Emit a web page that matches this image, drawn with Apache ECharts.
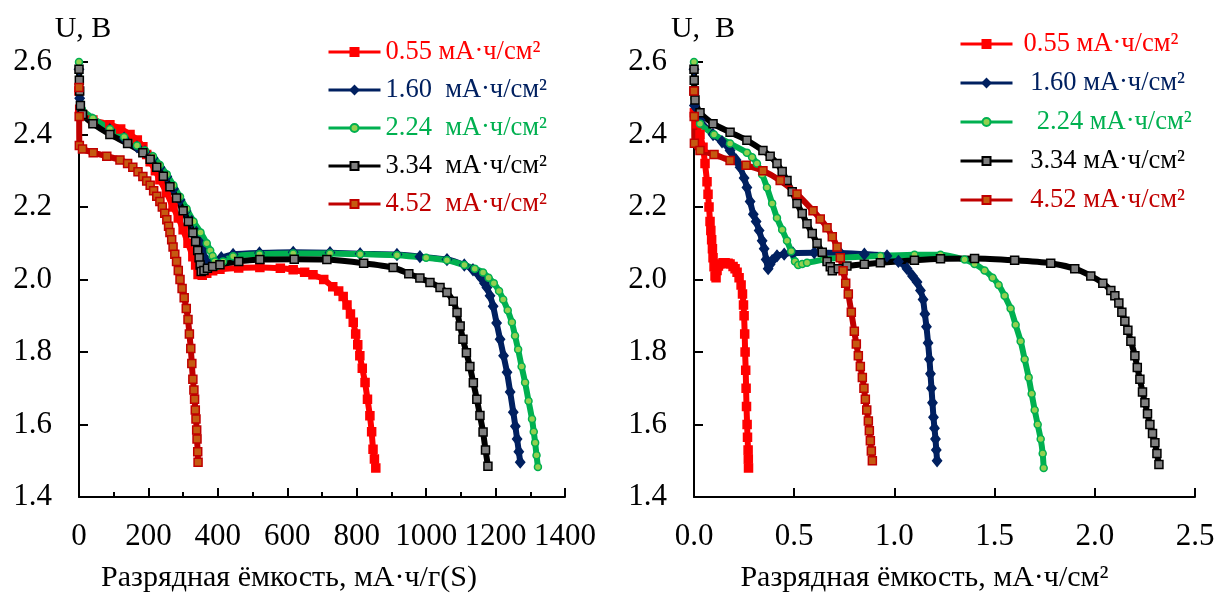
<!DOCTYPE html>
<html>
<head>
<meta charset="utf-8">
<script src="https://cdn.jsdelivr.net/npm/echarts@6/dist/echarts.min.js"></script>
<style>
  html, body { margin: 0; padding: 0; background: #fff; }
  #chart { width: 1219px; height: 601px; }
</style>
</head>
<body>
<div id="chart"></div>
<script>
// Discharge curves: voltage U (V) vs specific capacity (mA·h/g S) and areal capacity (mA·h/cm²)

const seriesLabelsLeft = ['0.55 мА·ч/см²', '1.60  мА·ч/см²', '2.24  мА·ч/см²', '3.34  мА·ч/см²', '4.52  мА·ч/см²'];
const seriesLabelsRight = ['0.55 мА·ч/см² ', ' 1.60 мА·ч/см² ', '  2.24 мА·ч/см² ', ' 3.34 мА·ч/см² ', ' 4.52 мА·ч/см² '];

const xTicksLeft = [0, 200, 400, 600, 800, 1000, 1200, 1400];
const xTicksRight = [0.0, 0.5, 1.0, 1.5, 2.0, 2.5];
const yTicks = [1.4, 1.6, 1.8, 2.0, 2.2, 2.4, 2.6];

// Specific capacity, mA·h/g(S)
const left055 = [[0,2.52],[2,2.47],[10,2.455],[40,2.44],[89,2.427],[120,2.415],[147,2.40],[168,2.385],[184,2.366],[195,2.345],[205,2.325],[220,2.30],[233,2.275],[252,2.24],[271,2.20],[286,2.17],[300,2.137],[314,2.10],[328,2.063],[336,2.04],[343,2.014],[355,2.012],[368,2.017],[385,2.024],[406,2.028],[460,2.032],[521,2.033],[580,2.031],[617,2.027],[650,2.02],[674,2.013],[705,2.0],[731,1.98],[748,1.968],[761,1.953],[772,1.93],[782,1.905],[790,1.882],[797,1.85],[803,1.82],[809,1.79],[816,1.755],[824,1.716],[831,1.67],[838,1.624],[843,1.58],[847,1.532],[851,1.505],[855,1.48]];
const left160 = [[0,2.58],[2,2.50],[8,2.465],[40,2.44],[89,2.413],[130,2.39],[167,2.366],[190,2.352],[213,2.335],[233,2.31],[253,2.284],[272,2.25],[291,2.22],[308,2.19],[325,2.16],[338,2.13],[350,2.10],[357,2.08],[362,2.06],[367,2.045],[370,2.036],[377,2.04],[385,2.048],[410,2.06],[444,2.069],[520,2.073],[617,2.075],[723,2.074],[810,2.071],[916,2.069],[982,2.063],[1060,2.055],[1110,2.04],[1135,2.027],[1150,2.015],[1160,2.003],[1168,1.99],[1175,1.978],[1184,1.955],[1193,1.926],[1203,1.88],[1213,1.835],[1223,1.79],[1233,1.744],[1242,1.69],[1251,1.634],[1257,1.595],[1262,1.56],[1267,1.525],[1271,1.496]];
const left224 = [[0,2.60],[2,2.52],[8,2.47],[40,2.445],[89,2.415],[130,2.393],[167,2.37],[190,2.356],[213,2.34],[233,2.316],[253,2.29],[272,2.26],[291,2.228],[310,2.195],[330,2.16],[350,2.13],[368,2.10],[378,2.08],[385,2.065],[391,2.05],[397,2.037],[405,2.043],[415,2.05],[444,2.064],[520,2.07],[617,2.072],[723,2.072],[810,2.07],[916,2.067],[1000,2.06],[1060,2.053],[1110,2.04],[1140,2.03],[1164,2.019],[1180,2.005],[1195,1.99],[1210,1.968],[1222,1.945],[1235,1.915],[1247,1.882],[1256,1.845],[1265,1.807],[1275,1.76],[1285,1.716],[1295,1.665],[1305,1.615],[1310,1.58],[1314,1.55],[1318,1.515],[1322,1.483]];
const left334 = [[0,2.58],[1,2.55],[2,2.52],[4,2.48],[10,2.455],[40,2.43],[89,2.40],[140,2.375],[184,2.35],[205,2.332],[224,2.31],[243,2.285],[262,2.256],[281,2.225],[300,2.19],[315,2.16],[328,2.129],[336,2.105],[342,2.08],[346,2.06],[349,2.04],[352,2.022],[360,2.025],[370,2.031],[385,2.036],[406,2.041],[460,2.05],[521,2.055],[620,2.056],[714,2.055],[820,2.045],[905,2.033],[950,2.016],[982,2.004],[1011,1.992],[1040,1.978],[1060,1.964],[1078,1.94],[1089,1.909],[1098,1.872],[1106,1.835],[1116,1.798],[1126,1.76],[1136,1.715],[1146,1.67],[1155,1.625],[1164,1.579],[1171,1.53],[1178,1.485]];
const left452 = [[0,2.53],[0.5,2.45],[1,2.37],[10,2.36],[41,2.35],[80,2.34],[118,2.33],[140,2.32],[155,2.31],[170,2.297],[184,2.284],[195,2.272],[205,2.26],[215,2.245],[224,2.23],[233,2.215],[240,2.20],[247,2.183],[253,2.165],[258,2.147],[262,2.13],[267,2.11],[271,2.09],[276,2.07],[281,2.05],[286,2.025],[291,2.0],[297,1.975],[303,1.95],[309,1.92],[314,1.89],[318,1.85],[322,1.81],[325,1.768],[328,1.725],[331,1.695],[333,1.67],[335,1.64],[337,1.615],[339,1.585],[340,1.56],[342,1.525],[343,1.496]];

// Areal capacity, mA·h/cm²
const right055 = [[0,2.52],[0.002,2.46],[0.015,2.43],[0.03,2.40],[0.045,2.365],[0.055,2.32],[0.065,2.27],[0.07,2.235],[0.075,2.20],[0.08,2.16],[0.084,2.135],[0.088,2.11],[0.092,2.085],[0.095,2.06],[0.1,2.035],[0.105,2.01],[0.11,2.005],[0.115,2.025],[0.122,2.037],[0.13,2.043],[0.145,2.046],[0.155,2.046],[0.17,2.045],[0.18,2.043],[0.195,2.036],[0.205,2.03],[0.215,2.02],[0.225,2.005],[0.235,1.985],[0.242,1.96],[0.247,1.93],[0.25,1.90],[0.253,1.85],[0.255,1.80],[0.258,1.75],[0.26,1.70],[0.262,1.65],[0.265,1.60],[0.267,1.565],[0.27,1.53],[0.271,1.505],[0.272,1.48]];
const right160 = [[0,2.58],[0.002,2.48],[0.03,2.44],[0.095,2.40],[0.14,2.38],[0.18,2.356],[0.21,2.33],[0.23,2.31],[0.25,2.28],[0.264,2.254],[0.28,2.215],[0.296,2.18],[0.31,2.16],[0.325,2.135],[0.34,2.107],[0.35,2.085],[0.36,2.055],[0.37,2.03],[0.38,2.042],[0.39,2.052],[0.414,2.065],[0.45,2.07],[0.494,2.073],[0.6,2.074],[0.73,2.073],[0.85,2.07],[0.963,2.065],[1.02,2.05],[1.063,2.03],[1.09,2.01],[1.113,1.993],[1.13,1.97],[1.143,1.945],[1.152,1.905],[1.16,1.87],[1.168,1.825],[1.175,1.78],[1.18,1.74],[1.185,1.70],[1.19,1.66],[1.195,1.62],[1.2,1.59],[1.205,1.56],[1.209,1.53],[1.213,1.50]];
const right224 = [[0,2.60],[0.002,2.50],[0.03,2.43],[0.1,2.40],[0.18,2.375],[0.264,2.35],[0.29,2.337],[0.314,2.32],[0.34,2.29],[0.364,2.254],[0.39,2.21],[0.414,2.17],[0.44,2.137],[0.464,2.107],[0.485,2.078],[0.504,2.05],[0.52,2.04],[0.54,2.043],[0.564,2.046],[0.65,2.055],[0.73,2.06],[0.93,2.065],[1.1,2.068],[1.23,2.068],[1.35,2.055],[1.4,2.043],[1.45,2.025],[1.49,2.005],[1.52,1.985],[1.55,1.955],[1.58,1.92],[1.605,1.875],[1.63,1.83],[1.65,1.78],[1.67,1.73],[1.685,1.685],[1.70,1.64],[1.715,1.60],[1.73,1.56],[1.74,1.52],[1.745,1.48]];
const right334 = [[0,2.58],[0.001,2.55],[0.002,2.52],[0.005,2.495],[0.03,2.46],[0.095,2.43],[0.18,2.406],[0.264,2.384],[0.344,2.356],[0.38,2.34],[0.414,2.32],[0.44,2.298],[0.464,2.273],[0.49,2.242],[0.514,2.21],[0.54,2.182],[0.564,2.154],[0.59,2.127],[0.614,2.10],[0.64,2.075],[0.664,2.05],[0.68,2.035],[0.69,2.024],[0.72,2.03],[0.763,2.037],[0.85,2.042],[0.93,2.046],[1.1,2.053],[1.23,2.057],[1.4,2.058],[1.6,2.053],[1.78,2.045],[1.9,2.03],[1.98,2.01],[2.04,1.99],[2.08,1.97],[2.1,1.955],[2.12,1.935],[2.135,1.91],[2.15,1.885],[2.165,1.86],[2.18,1.83],[2.2,1.79],[2.212,1.757],[2.225,1.725],[2.238,1.69],[2.25,1.66],[2.263,1.63],[2.275,1.60],[2.288,1.575],[2.30,1.55],[2.31,1.52],[2.32,1.49]];
const right452 = [[0,2.52],[0.001,2.45],[0.002,2.376],[0.03,2.356],[0.1,2.345],[0.18,2.328],[0.26,2.315],[0.344,2.30],[0.43,2.273],[0.514,2.236],[0.594,2.19],[0.63,2.167],[0.664,2.143],[0.69,2.118],[0.714,2.09],[0.73,2.06],[0.744,2.024],[0.757,1.99],[0.77,1.96],[0.785,1.91],[0.80,1.857],[0.81,1.822],[0.82,1.79],[0.83,1.76],[0.84,1.73],[0.848,1.70],[0.855,1.67],[0.862,1.64],[0.87,1.61],[0.875,1.583],[0.88,1.555],[0.885,1.527],[0.89,1.50]];

const FONT = '"Liberation Serif", "Times New Roman", serif';

// per-series appearance: line colour, marker shape, marker fill, marker border, marker size
const styles = [
  { line: '#FF0000', symbol: 'rect',    fill: '#FF0000', border: '#FF0000', size: 8, text: '#FF0000' },
  { line: '#002060', symbol: 'diamond', fill: '#002060', border: '#002060', size: [9, 11], text: '#002060' },
  { line: '#00B050', symbol: 'circle',  fill: '#92D050', border: '#00B050', size: 7, text: '#00B050' },
  { line: '#000000', symbol: 'rect',    fill: '#7F7F7F', border: '#000000', size: 8, text: '#000000' },
  { line: '#C00000', symbol: 'rect',    fill: '#C55A11', border: '#C00000', size: 8, text: '#C00000' }
];

const leftData = [left055, left160, left224, left334, left452];
const rightData = [right055, right160, right224, right334, right452];

function makeSeries(name, data, st, axisIndex) {
  return {
    name: name,
    type: 'line',
    xAxisIndex: axisIndex,
    yAxisIndex: axisIndex,
    data: data,
    smooth: 0.2,
    symbol: st.symbol,
    symbolSize: st.size,
    showSymbol: true,
    showAllSymbol: true,
    animation: false,
    lineStyle: { color: st.line, width: 6 },
    itemStyle: { color: st.fill, borderColor: st.border, borderWidth: 1.5 },
    emphasis: { disabled: true }
  };
}

const series = [];
leftData.forEach((d, i) => series.push(makeSeries(seriesLabelsLeft[i], d, styles[i], 0)));
rightData.forEach((d, i) => series.push(makeSeries(seriesLabelsRight[i], d, styles[i], 1)));

const axisLineStyle = { show: true, lineStyle: { color: '#000', width: 2 } };
const labelStyle = { color: '#000', fontSize: 31, fontFamily: FONT };

function yAxisDef(gridIndex, name, pad) {
  return {
    type: 'value', gridIndex: gridIndex,
    min: yTicks[0], max: yTicks[yTicks.length - 1], interval: 0.2,
    name: name, nameLocation: 'end', nameGap: 18,
    nameTextStyle: { color: '#000', fontSize: 30, fontFamily: FONT, padding: pad },
    axisLine: axisLineStyle,
    axisTick: { show: true, inside: true, length: 9, lineStyle: { color: '#000', width: 2 } },
    axisLabel: Object.assign({ margin: 27, formatter: v => v.toFixed(1) }, labelStyle),
    splitLine: { show: false }
  };
}

const legendCommon = {
  orient: 'vertical', padding: 0,
  itemWidth: 52, itemHeight: 10,
  lineStyle: { width: 3 },
  selectedMode: false,
  textStyle: { fontSize: 26.5, fontFamily: FONT, lineHeight: 28 }
};

const option = {
  backgroundColor: '#fff',
  animation: false,
  grid: [
    { left: 79, right: 1219 - 565, top: 62, bottom: 601 - 497, containLabel: false },
    { left: 694, right: 1219 - 1195, top: 62, bottom: 601 - 497, containLabel: false }
  ],
  xAxis: [
    {
      type: 'value', gridIndex: 0,
      min: xTicksLeft[0], max: xTicksLeft[xTicksLeft.length - 1], interval: 200,
      name: 'Разрядная ёмкость, мА·ч/г(S)', nameLocation: 'middle', nameGap: 66,
      nameTextStyle: { color: '#000', fontSize: 30, fontFamily: FONT, padding: [0, 66, 0, 0] },
      axisLine: axisLineStyle,
      axisTick: { show: true, inside: true, length: 9, lineStyle: { color: '#000', width: 2 } },
      minorTick: { show: true, splitNumber: 2, length: 5, lineStyle: { color: '#000', width: 2 } },
      axisLabel: Object.assign({ margin: 24, formatter: v => String(v) }, labelStyle),
      splitLine: { show: false }, minorSplitLine: { show: false }
    },
    {
      type: 'value', gridIndex: 1,
      min: xTicksRight[0], max: xTicksRight[xTicksRight.length - 1], interval: 0.5,
      name: 'Разрядная ёмкость, мА·ч/см²', nameLocation: 'middle', nameGap: 66,
      nameTextStyle: { color: '#000', fontSize: 30, fontFamily: FONT, padding: [0, 40, 0, 0] },
      axisLine: axisLineStyle,
      axisTick: { show: true, inside: true, length: 9, lineStyle: { color: '#000', width: 2 } },
      axisLabel: Object.assign({ margin: 24, formatter: v => v.toFixed(1) }, labelStyle),
      splitLine: { show: false }
    }
  ],
  yAxis: [
    yAxisDef(0, 'U, B', [0, 0, 0, 8]),
    yAxisDef(1, 'U,  B', [0, 0, 0, 18])
  ],
  legend: [
    Object.assign({}, legendCommon, {
      left: 327, top: 38, itemGap: 10,
      data: seriesLabelsLeft.map((n, i) => ({ name: n, textStyle: { color: styles[i].text } }))
    }),
    Object.assign({}, legendCommon, {
      left: 959, top: 30, itemGap: 11,
      data: seriesLabelsRight.map((n, i) => ({ name: n, textStyle: { color: styles[i].text, padding: [0, 0, 0, 6] } }))
    })
  ],
  series: series
};

const chart = echarts.init(document.getElementById('chart'), null, { renderer: 'canvas' });
chart.setOption(option);
</script>
</body>
</html>
